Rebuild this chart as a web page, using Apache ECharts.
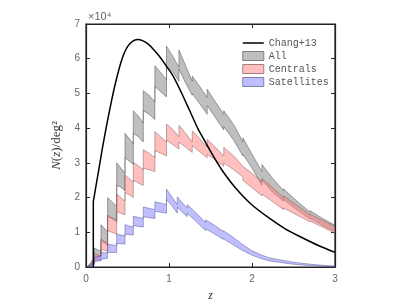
<!DOCTYPE html>
<html><head><meta charset="utf-8">
<script src="https://cdn.jsdelivr.net/npm/echarts@6/dist/echarts.min.js"></script>
<style>html,body{margin:0;padding:0;background:#fff}#c{width:408px;height:307px}</style>
</head><body><div id="c"></div>
<script>
// Chang+13 curve (z, N in units of 1e4)
const zChang = [0.088,0.088,0.10,0.15,0.20,0.25,0.30,0.35,0.40,0.45,0.50,0.56,0.62,0.68,0.75,0.82,0.90,0.97,1.05,1.15,1.25,1.35,1.45,1.55,1.65,1.80,1.98,2.20,2.40,2.60,2.80,3.00];
const nChang = [0,1.86,2.05,2.75,3.45,4.10,4.70,5.25,5.72,6.10,6.35,6.50,6.55,6.52,6.42,6.25,6.02,5.78,5.50,5.02,4.50,3.98,3.55,3.13,2.75,2.28,1.83,1.42,1.10,0.85,0.62,0.42];

// All
const zAll = [0.02,0.05,0.08,0.10, 0.10,0.14,0.18, 0.18,0.22,0.26, 0.26,0.31,0.37, 0.37,0.42,0.47, 0.47,0.52,0.57, 0.57,0.63,0.69, 0.69,0.76,0.83, 0.83,0.90,0.97, 0.97,1.05,1.12, 1.12,1.20,1.28, 1.28,1.37,1.46, 1.46,1.56,1.66, 1.66,1.78,1.89, 1.89,2.00,2.12, 2.12,2.25,2.38, 2.38,2.54,2.70, 2.70,2.85,3.00];
const allHi = [0.02,0.10,0.20,0.25, 0.55,0.50,0.45, 1.22,1.12,1.02, 2.00,1.88,1.75, 3.00,2.85,2.70, 3.85,3.70,3.55, 4.50,4.35,4.15, 5.08,4.95,4.75, 5.80,5.60,5.40, 6.36,6.05,5.75, 6.25,5.80,5.35, 5.50,5.20,4.88, 5.12,4.75,4.40, 4.50,4.10,3.60, 3.72,3.25,2.75, 2.95,2.55,2.20, 2.25,1.90,1.58, 1.62,1.40,1.20];
const allLo = [0.00,0.03,0.08,0.10, 0.25,0.28,0.30, 0.75,0.70,0.62, 1.45,1.40,1.30, 2.35,2.30,2.20, 3.15,3.05,2.95, 3.85,3.75,3.60, 4.50,4.40,4.25, 5.20,5.05,4.90, 5.80,5.60,5.35, 5.70,5.30,4.95, 5.00,4.70,4.40, 4.65,4.30,3.95, 4.05,3.65,3.20, 3.25,2.85,2.35, 2.50,2.15,1.90, 1.95,1.65,1.38, 1.40,1.20,1.02];

// Centrals
const zCen = zAll.slice();
const cenHi = [0.02,0.08,0.15,0.18, 0.38,0.35,0.32, 0.80,0.74,0.68, 1.50,1.42,1.35, 2.10,2.00,1.90, 2.65,2.55,2.45, 3.02,2.92,2.80, 3.38,3.28,3.15, 3.90,3.75,3.60, 4.12,3.95,3.75, 4.08,3.85,3.60, 3.92,3.70,3.45, 3.68,3.45,3.20, 3.45,3.20,2.90, 2.90,2.70,2.45, 2.55,2.28,2.00, 2.05,1.78,1.50, 1.52,1.34,1.16];
const cenLo = [0.00,0.02,0.06,0.08, 0.20,0.20,0.20, 0.50,0.48,0.45, 1.05,1.00,0.95, 1.60,1.55,1.50, 2.15,2.08,2.00, 2.50,2.42,2.35, 2.85,2.80,2.75, 3.35,3.28,3.20, 3.65,3.52,3.40, 3.60,3.45,3.30, 3.50,3.32,3.15, 3.25,3.08,2.90, 3.00,2.80,2.60, 2.50,2.28,2.05, 2.10,1.88,1.65, 1.70,1.50,1.30, 1.32,1.15,0.97];

// Satellites
const zSat = [0.02,0.05,0.08,0.10, 0.10,0.14,0.18, 0.18,0.22,0.26, 0.26,0.31,0.37, 0.37,0.42,0.47, 0.47,0.52,0.57, 0.57,0.63,0.69, 0.69,0.76,0.83, 0.83,0.90,0.97, 0.97,1.04,1.10, 1.10,1.16,1.22, 1.22,1.33,1.44, 1.44,1.55,1.65, 1.65,1.76,1.87, 1.99,2.10,2.20,2.37,2.50,2.70,2.85,3.00];
const satHi = [0.01,0.05,0.10,0.13, 0.28,0.30,0.32, 0.42,0.41,0.40, 0.66,0.64,0.62, 0.95,0.92,0.90, 1.22,1.18,1.15, 1.46,1.43,1.40, 1.73,1.69,1.65, 1.88,1.84,1.80, 2.24,2.00,1.80, 2.02,1.85,1.70, 1.80,1.55,1.28, 1.36,1.20,1.03, 1.05,0.88,0.68, 0.48,0.36,0.27,0.19,0.14,0.08,0.05,0.03];
const satLo = [0.00,0.01,0.04,0.06, 0.15,0.17,0.18, 0.22,0.24,0.25, 0.42,0.42,0.42, 0.68,0.67,0.66, 0.95,0.93,0.92, 1.20,1.17,1.15, 1.45,1.42,1.40, 1.60,1.58,1.55, 1.95,1.75,1.55, 1.72,1.58,1.45, 1.55,1.30,1.05, 1.10,0.95,0.80, 0.82,0.66,0.50, 0.35,0.25,0.18,0.12,0.08,0.04,0.02,0.00];

const xTicks = [0,1,2,3];
const yTicks = [0,1,2,3,4,5,6,7];

function band(name, zs, lo, hi, fill, stroke) {
  return {
    type: 'custom', name: name,
    data: zs.map((z, i) => [z, lo[i], hi[i]]),
    encode: { x: 0, y: [1, 2] },
    itemStyle: { color: fill },
    clip: true, silent: true,
    renderItem: function (params, api) {
      if (params.dataIndex !== 0) return null;
      const n = zs.length, pts = [];
      for (let i = 0; i < n; i++) pts.push(api.coord([api.value(0, i), api.value(2, i)]));
      for (let i = n - 1; i >= 0; i--) pts.push(api.coord([api.value(0, i), api.value(1, i)]));
      return { type: 'polygon', shape: { points: pts }, style: { fill: fill, stroke: stroke, lineWidth: 0.6 } };
    }
  };
}

const chart = echarts.init(document.getElementById('c'), null, { renderer: 'canvas' });
const tickLbl = { color: '#666', fontFamily: 'Liberation Sans', fontSize: 10 };
function boxLine() { return { show: true, onZero: false, lineStyle: { color: '#222', width: 1.2 } }; }
function boxTick() { return { show: true, inside: true, length: 4, lineStyle: { color: '#222' } }; }
chart.setOption({
  animation: false,
  backgroundColor: '#fff',
  grid: { left: 86, right: 73, top: 24, bottom: 34, show: true, borderColor: '#222', borderWidth: 1.2, backgroundColor: 'rgba(0,0,0,0)' },
  graphic: [{ type: 'text', left: 88, top: 11, style: { text: '×10⁴', fill: '#666', font: '11px Liberation Sans' } }],
  legend: {
    orient: 'vertical', left: 242, top: 38, padding: 0, itemWidth: 21, itemHeight: 9, itemGap: 3,
    textStyle: { fontFamily: 'Liberation Mono', fontSize: 10, color: '#555', lineHeight: 10 },
    data: [
      { name: 'Chang+13', itemStyle: { color: 'rgba(0,0,0,0)', borderWidth: 0 }, lineStyle: { color: '#000', width: 1.5 } },
      { name: 'All', icon: 'rect', itemStyle: { color: '#bfbfbf', borderColor: '#808080', borderWidth: 1 } },
      { name: 'Centrals', icon: 'rect', itemStyle: { color: '#ffbfbf', borderColor: '#a08080', borderWidth: 1 } },
      { name: 'Satellites', icon: 'rect', itemStyle: { color: '#bfbfff', borderColor: '#8080a0', borderWidth: 1 } }
    ]
  },
  xAxis: [
    { type: 'value', min: 0, max: 3, interval: 1, position: 'bottom',
      name: 'z', nameLocation: 'middle', nameGap: 23,
      nameTextStyle: { fontFamily: 'Liberation Serif', fontStyle: 'italic', fontSize: 12, color: '#333' },
      axisLine: boxLine(), axisTick: boxTick(),
      axisLabel: Object.assign({ margin: 7, formatter: v => xTicks.includes(v) ? String(v) : '' }, tickLbl),
      splitLine: { show: false } },
    { type: 'value', min: 0, max: 3, interval: 1, position: 'top',
      axisLine: boxLine(), axisTick: boxTick(),
      axisLabel: { show: false }, splitLine: { show: false } }
  ],
  yAxis: [
    { type: 'value', min: 0, max: 7, interval: 1, position: 'left',
      name: '{i|N}({i|z})/deg²', nameLocation: 'middle', nameGap: 19, nameRotate: 90,
      nameTextStyle: { fontFamily: 'Liberation Serif', fontSize: 13, color: '#333',
        rich: { i: { fontFamily: 'Liberation Serif', fontStyle: 'italic', fontSize: 13, color: '#333' } } },
      axisLine: boxLine(), axisTick: boxTick(),
      axisLabel: Object.assign({ margin: 6, formatter: v => yTicks.includes(v) ? String(v) : '' }, tickLbl),
      splitLine: { show: false } },
    { type: 'value', min: 0, max: 7, interval: 1, position: 'right',
      axisLine: boxLine(), axisTick: boxTick(),
      axisLabel: { show: false }, splitLine: { show: false } }
  ],
  series: [
    band('All', zAll, allLo, allHi, 'rgba(128,128,128,0.5)', 'rgba(70,70,70,0.8)'),
    band('Centrals', zCen, cenLo, cenHi, 'rgba(255,128,128,0.5)', 'rgba(110,70,70,0.7)'),
    band('Satellites', zSat, satLo, satHi, 'rgba(128,128,255,0.5)', 'rgba(60,60,130,0.7)'),
    { type: 'line', name: 'Chang+13', data: zChang.map((z, i) => [z, nChang[i]]),
      symbol: 'none', smooth: 0.3, lineStyle: { color: '#000', width: 1.5 }, itemStyle: { color: '#000' }, z: 5 },
    { type: 'line', name: 'frame', xAxisIndex: 1, yAxisIndex: 1, data: [], silent: true }
  ]
});
</script></body></html>
